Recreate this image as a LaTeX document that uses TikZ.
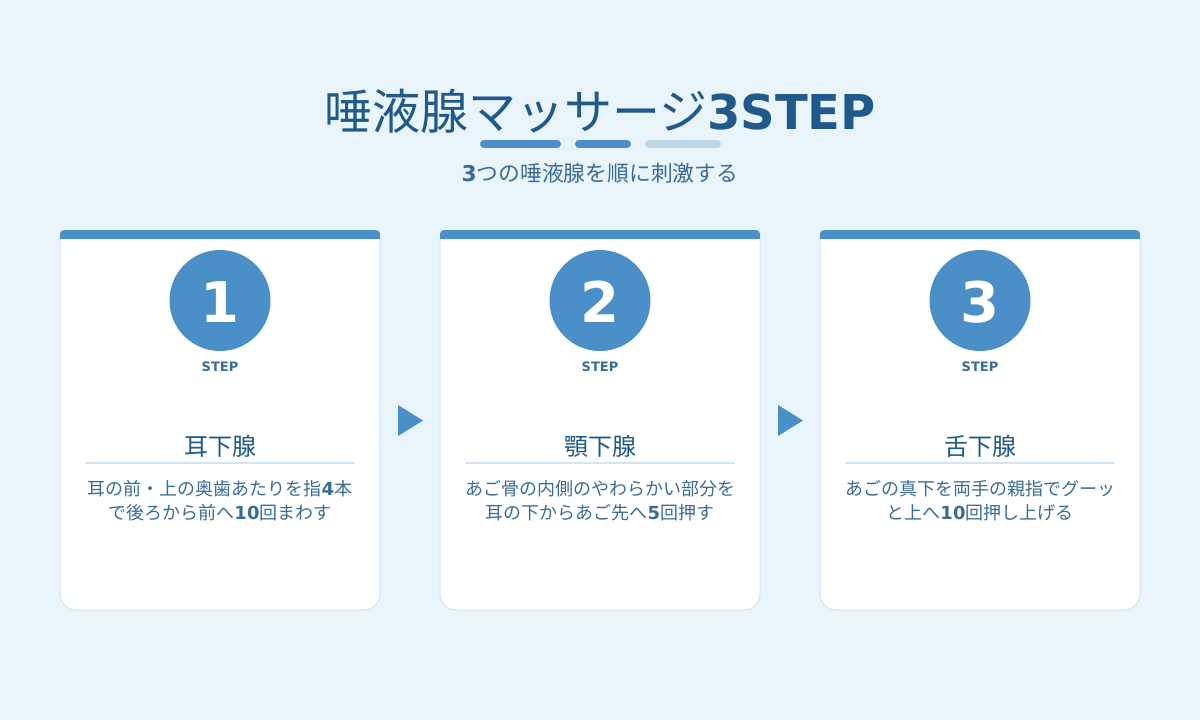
\documentclass[tikz,border=0pt]{standalone}
\usepackage{fontspec}
\setmainfont{Noto Sans CJK JP}
\newfontfamily\dejavu{DejaVu Sans}
\newcommand{\latin}[1]{{\dejavu\bfseries #1}}

\definecolor{bgblue}{HTML}{E9F4FB}
\definecolor{stepblue}{HTML}{4A8FC7}
\definecolor{paleblue}{HTML}{BAD7EA}
\definecolor{titleblue}{HTML}{1F5A8A}
\definecolor{textblue}{HTML}{3A6C98}
\definecolor{cardline}{HTML}{D3E5F2}

\begin{document}
\begin{tikzpicture}[x=1pt, y=-1pt,
    title/.style={anchor=base, text=titleblue, font=\fontsize{48}{56}\selectfont},
    subtitle/.style={anchor=base, text=textblue, font=\fontsize{21.8}{26}\selectfont},
    stepnum/.style={anchor=base, text=white, font=\fontsize{56}{60}\selectfont\dejavu\bfseries},
    steplabel/.style={anchor=base, text=textblue, font=\fontsize{13}{15}\selectfont\dejavu\bfseries},
    gland/.style={anchor=base, text=titleblue, font=\fontsize{24}{28}\selectfont},
    desc/.style={anchor=base, text=textblue, font=\fontsize{18}{22}\selectfont}]

    % 1. Nền và khung
    \fill[bgblue] (0,0) rectangle (1200,720);
    \useasboundingbox (0,0) rectangle (1200,720);

    % 2. Tiêu đề và phụ đề
    \node[title] (title) at (600,129) {唾液腺マッサージ\latin{3STEP}};
    \draw[line width=8pt, line cap=round, stepblue] (484,144) -- (557,144);
    \draw[line width=8pt, line cap=round, stepblue] (579,144) -- (627,144);
    \draw[line width=8pt, line cap=round, paleblue] (649,144) -- (717,144);
    \node[subtitle] (subtitle) at (600,181) {\latin{3}つの唾液腺を順に刺激する};

    % 3. Ba thẻ bước
    \foreach \i/\cx/\name/\lineA/\lineB in {
        1/220/耳下腺/{耳の前・上の奥歯あたりを指\latin{4}本}/{で後ろから前へ\latin{10}回まわす},
        2/600/顎下腺/{あご骨の内側のやわらかい部分を}/{耳の下からあご先へ\latin{5}回押す},
        3/980/舌下腺/{あごの真下を両手の親指でグーッ}/{と上へ\latin{10}回押し上げる}}{
        \coordinate (card\i) at (\cx,420);
        % thân thẻ
        \filldraw[fill=white, draw=cardline, line width=1pt, rounded corners=16pt]
            ({\cx-160},236) -- ({\cx-160},610) -- ({\cx+160},610) -- ({\cx+160},236);
        % dải màu phía trên
        \fill[stepblue, rounded corners=4pt] ({\cx-160},230) rectangle ({\cx+160},239);
        \fill[stepblue] ({\cx-160},235) rectangle ({\cx+160},239);
        % vòng tròn số
        \fill[stepblue] (\cx,300.5) circle (50.5);
        \node[stepnum] (num\i) at (\cx,322) {\i};
        \node[steplabel] (step\i) at (\cx,371) {STEP};
        % tên tuyến và mô tả
        \node[gland] (gland\i) at (\cx,455) {\name};
        \draw[cardline, line width=2pt] ({\cx-135},463) -- ({\cx+135},463);
        \node[desc] (descA\i) at (\cx,495) {\lineA};
        \node[desc] (descB\i) at (\cx,519) {\lineB};
    }

    % 4. Mũi tên tam giác giữa các thẻ
    \foreach \ax in {398,778}{
        \fill[stepblue] (\ax,405) -- ({\ax+25},420.5) -- (\ax,436) -- cycle;
    }

\end{tikzpicture}
\end{document}
